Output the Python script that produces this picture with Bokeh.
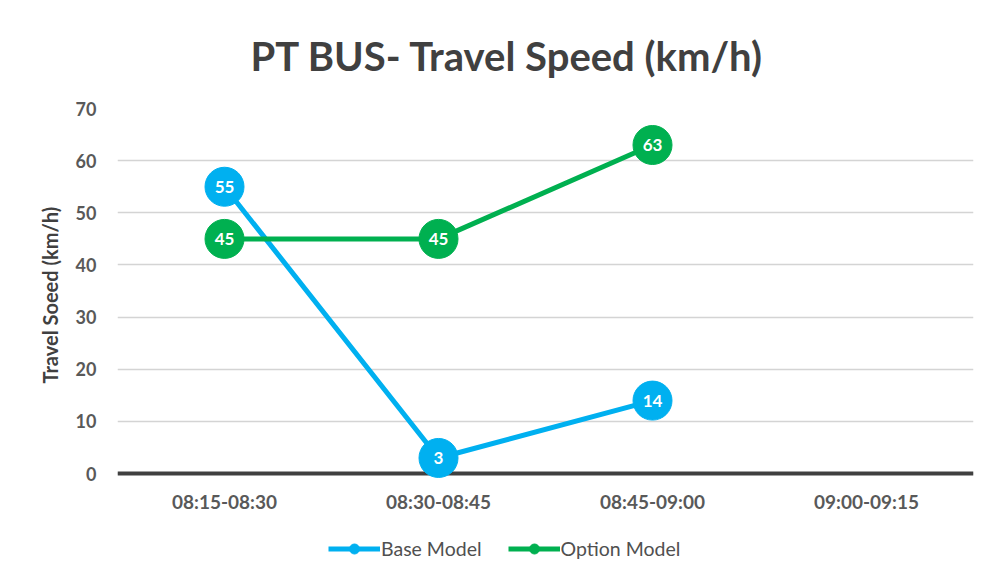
from bokeh.plotting import figure
from bokeh.models import (FactorRange, Range1d, Span, Legend, LegendItem, Title,
                          ColumnDataSource, FixedTicker)
from bokeh.core.properties import value
from bokeh.embed import file_html
from bokeh.resources import INLINE

categories = ["08:15-08:30", "08:30-08:45", "08:45-09:00", "09:00-09:15"]
base_x = ["08:15-08:30", "08:30-08:45", "08:45-09:00"]
base_values = [55, 3, 14]
option_x = ["08:15-08:30", "08:30-08:45", "08:45-09:00"]
option_values = [45, 45, 63]
y_ticks = [0, 10, 20, 30, 40, 50, 60, 70]

BLUE = "#00b0f0"
GREEN = "#00b050"
FONT = "Lato"
XLABEL_Y = -5.4   # vertical placement of category labels (layout constant)

p = figure(width=979, height=567, output_backend="svg", toolbar_location=None,
           x_range=FactorRange(*categories), y_range=Range1d(-18, 70),
           min_border_left=117, min_border_right=6, min_border_top=108,
           min_border_bottom=0)
p.outline_line_color = None
p.background_fill_color = "white"

p.title.text = "PT BUS- Travel Speed (km/h)"
p.title.text_font = FONT
p.title.text_font_style = "bold"
p.title.text_font_size = "40px"
p.title.text_color = "#404040"
p.title.align = "left"
p.title.offset = 133
p.title.standoff = 58

# grid
p.xgrid.grid_line_color = None
p.ygrid.grid_line_color = "#d4d4d4"
p.ygrid.grid_line_width = 1.5
p.yaxis.ticker = FixedTicker(ticks=y_ticks)

# axes
p.xaxis.visible = False
ax = p.yaxis
ax.axis_line_color = None
ax.major_tick_line_color = None
ax.minor_tick_line_color = None
ax.major_label_text_font = FONT
ax.major_label_text_font_style = "bold"
ax.major_label_text_color = "#595959"
ax.major_label_text_font_size = "18px"
ax.major_label_standoff = 15

# y axis title (kept beside the 0-70 band)
ytitle = Title(text="Travel Soeed (km/h)", text_font=FONT, text_font_style="bold",
               text_font_size="20px", text_color="#404040", align="left",
               vertical_align="bottom", offset=184, standoff=22)
p.add_layout(ytitle, "left")

zero = Span(location=0, dimension="width", line_color="#404040", line_width=4,
            level="underlay")
p.add_layout(zero)

# category labels (x axis)
p.text(x=categories, y=[XLABEL_Y] * len(categories), text=categories,
       text_font=value(FONT), text_font_style="bold", text_font_size="19px",
       text_color="#595959", text_align="center", text_baseline="middle")

src_b = ColumnDataSource(dict(x=base_x, y=base_values, t=[str(v) for v in base_values]))
src_o = ColumnDataSource(dict(x=option_x, y=option_values, t=[str(v) for v in option_values]))

lines = {}
marks = {}
for name, src, col in (("b", src_b, BLUE), ("o", src_o, GREEN)):
    lines[name] = p.line("x", "y", source=src, line_color=col, line_width=5)
for name, src, col in (("o", src_o, GREEN), ("b", src_b, BLUE)):
    marks[name] = p.scatter("x", "y", source=src, size=39, fill_color=col, line_color=col)
    p.text("x", "y", text="t", source=src, text_color="white",
           text_font=value(FONT), text_font_style="bold", text_font_size="17px",
           text_align="center", text_baseline="middle")

legend = Legend(items=[LegendItem(label="Base Model", renderers=[lines["b"], marks["b"]]),
                       LegendItem(label="Option Model", renderers=[lines["o"], marks["o"]])],
                orientation="horizontal", location=(211, 6),
                glyph_width=52, glyph_height=25, label_standoff=1, spacing=26,
                label_text_font=FONT, label_text_font_size="19.5px",
                label_text_color="#505050", border_line_color=None,
                background_fill_alpha=0, padding=0, margin=0)
p.add_layout(legend, "center")

open("out.html", "w").write(file_html(p, INLINE))
